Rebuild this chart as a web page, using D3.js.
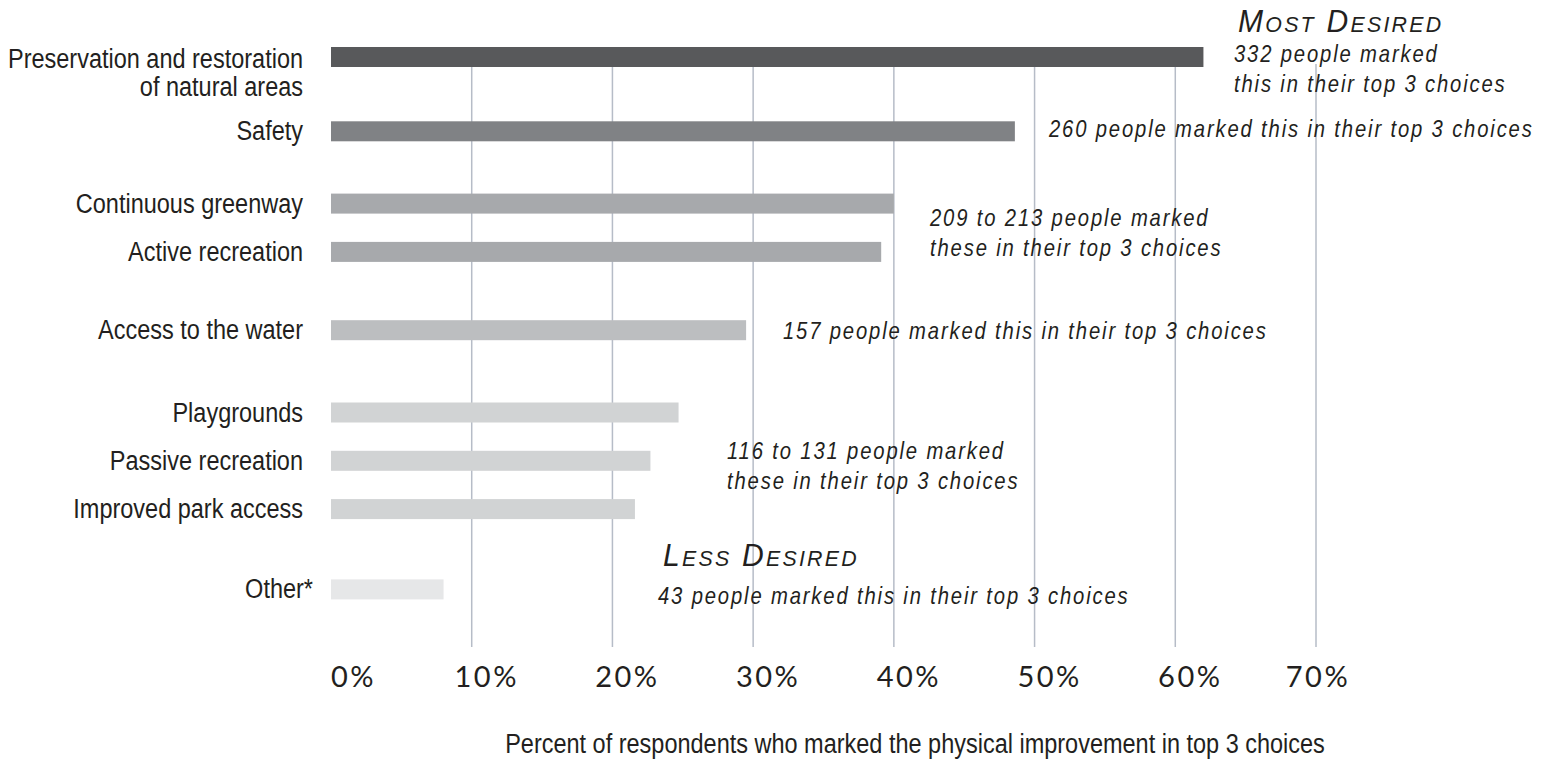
<!DOCTYPE html>
<html>
<head>
<meta charset="utf-8">
<script src="https://cdn.jsdelivr.net/npm/d3@7"></script>
<style>
  body { margin: 0; background: #fff; }
  .label { font-family: "Liberation Sans", Arial, sans-serif; font-size: 27px; fill: #231f20; }
  .note { font-family: "Liberation Sans", Arial, sans-serif; font-style: italic; font-size: 23px; letter-spacing: 2.1px; fill: #231f20; }
  .head { font-family: "Liberation Sans", Arial, sans-serif; font-style: italic; font-variant: small-caps; font-size: 32px; letter-spacing: 2.4px; fill: #231f20; }
  .tick { font-family: Lato, "Open Sans", sans-serif; font-weight: 400; font-size: 29px; letter-spacing: 2.5px; fill: #231f20; }
</style>
</head>
<body>
<div id="chart"></div>
<script>
// Physical improvements, in chart order
const categories = [
  ["Preservation and restoration", "of natural areas"],
  ["Safety"],
  ["Continuous greenway"],
  ["Active recreation"],
  ["Access to the water"],
  ["Playgrounds"],
  ["Passive recreation"],
  ["Improved park access"],
  ["Other*"]
];
// percent of respondents marking it in their top 3
const percents = [62.0, 48.6, 40.0, 39.1, 29.5, 24.7, 22.7, 21.6, 8.0];
// which cluster each bar belongs to
const groups = [0, 1, 2, 2, 3, 4, 4, 4, 5];
const ticks = [0, 10, 20, 30, 40, 50, 60, 70];

const notes = [
  { lines: ["332 people marked", "this in their top 3 choices"], x: 1234, y: 62 },
  { lines: ["260 people marked this in their top 3 choices"], x: 1049, y: 137 },
  { lines: ["209 to 213 people marked", "these in their top 3 choices"], x: 930, y: 226 },
  { lines: ["157 people marked this in their top 3 choices"], x: 783, y: 339 },
  { lines: ["116 to 131 people marked", "these in their top 3 choices"], x: 727, y: 459 },
  { lines: ["43 people marked this in their top 3 choices"], x: 658, y: 604 }
];
const headings = [
  { text: "Most Desired", x: 1238, y: 32 },
  { text: "Less Desired", x: 663, y: 566 }
];

const width = 1551;
const height = 761;
const squeeze = 0.87;  // the original type is a condensed face
const groupColors = ["#58595b", "#808285", "#a7a9ac", "#bcbec0", "#d1d3d4", "#e6e7e8"];
// extra space added before each cluster
const groupOffset = [0, 26, 50, 80, 114, 146];

const svg = d3.select("#chart")
  .append("svg")
  .attr("width", width)
  .attr("height", height);

const x = d3.scaleLinear().domain([0, 70]).range([331, 1316]);

const rowY = i => 57 + i * 48.3 + groupOffset[groups[i]];
const barH = 20;

// gridlines
svg.append("g")
  .selectAll("line")
  .data(ticks.slice(1))
  .enter().append("line")
  .attr("x1", d => x(d))
  .attr("x2", d => x(d))
  .attr("y1", 64)
  .attr("y2", 647)
  .style("stroke", "#b6bcc7")
  .style("stroke-width", 1.5);

// bars
svg.append("g")
  .selectAll("rect")
  .data(percents)
  .enter().append("rect")
  .attr("x", x(0))
  .attr("y", (d, i) => rowY(i) - barH / 2)
  .attr("width", d => x(d) - x(0))
  .attr("height", barH)
  .style("fill", (d, i) => groupColors[groups[i]]);

// category labels
svg.append("g")
  .selectAll("text")
  .data(categories)
  .enter().append("text")
  .attr("class", "label")
  .attr("text-anchor", "end")
  .attr("transform", (d, i) =>
    `translate(${i === categories.length - 1 ? 313 : 303},${rowY(i) + (i === 0 ? 11 : 9)}) scale(${squeeze},1)`)
  .selectAll("tspan")
  .data(d => d)
  .enter().append("tspan")
  .attr("x", 0)
  .attr("dy", (d, i) => i === 0 ? 0 : 28)
  .text(d => d);

// tick labels
svg.append("g")
  .selectAll("text")
  .data(ticks)
  .enter().append("text")
  .attr("class", "tick")
  .attr("text-anchor", (d, i) => i === 0 ? "start" : "middle")
  .attr("x", (d, i) => i === 0 ? x(d) : i === ticks.length - 1 ? x(d) + 2 : x(d) + 15)
  .attr("y", 687)
  .text(d => d + "%");

// axis title
svg.append("text")
  .attr("class", "label")
  .attr("text-anchor", "middle")
  .attr("transform", `translate(915,753) scale(${squeeze},1)`)
  .text("Percent of respondents who marked the physical improvement in top 3 choices");

// annotations
svg.append("g")
  .selectAll("text")
  .data(notes)
  .enter().append("text")
  .attr("class", "note")
  .attr("transform", d => `translate(${d.x},${d.y}) scale(0.88,1)`)
  .selectAll("tspan")
  .data(d => d.lines)
  .enter().append("tspan")
  .attr("x", 0)
  .attr("dy", (d, i) => i === 0 ? 0 : 30)
  .text(d => d);

svg.append("g")
  .selectAll("text")
  .data(headings)
  .enter().append("text")
  .attr("class", "head")
  .attr("transform", d => `translate(${d.x},${d.y}) scale(0.94,1)`)
  .text(d => d.text);
</script>
</body>
</html>
